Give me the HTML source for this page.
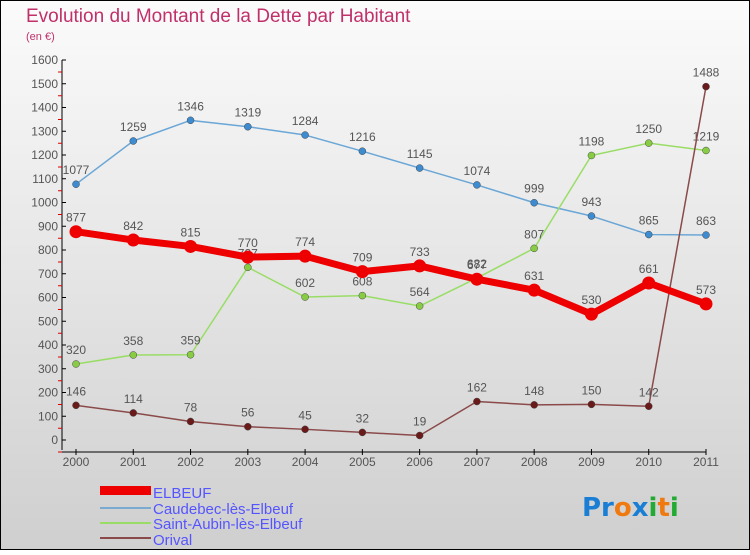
<!DOCTYPE html>
<html><head><meta charset="utf-8"><style>
html,body{margin:0;padding:0;}
body{width:750px;height:550px;overflow:hidden;font-family:"Liberation Sans",sans-serif;}
</style></head><body>
<svg width="750" height="550" viewBox="0 0 750 550" xmlns="http://www.w3.org/2000/svg">
<defs><linearGradient id="bg" x1="0" y1="0" x2="0" y2="1"><stop offset="0" stop-color="#fbfbfb"/><stop offset="1" stop-color="#cfcfcf"/></linearGradient></defs>
<rect x="0.5" y="0.5" width="749" height="549" fill="url(#bg)" stroke="#000"/>
<text x="26" y="22" font-size="19" fill="#c0306a">Evolution du Montant de la Dette par Habitant</text>
<text x="26" y="40" font-size="11" fill="#c0306a">(en €)</text>
<g id="axes"></g>
<g id="series"></g>
<g>
<rect x="100" y="486" width="51" height="9" fill="#e00"/>
<text x="153" y="498" font-size="15" fill="#5555ff">ELBEUF</text>
<rect x="100" y="507" width="51" height="2" fill="#7aaad0"/>
<text x="153" y="514" font-size="15" fill="#5555ff">Caudebec-lès-Elbeuf</text>
<rect x="100" y="522" width="51" height="2" fill="#99dd66"/>
<text x="153" y="529" font-size="15" fill="#5555ff">Saint-Aubin-lès-Elbeuf</text>
<rect x="100" y="537" width="51" height="2" fill="#8b4a4a"/>
<text x="153" y="545" font-size="15" fill="#5555ff">Orival</text>
</g>
<g font-size="26" font-weight="bold" font-family="'DejaVu Sans',sans-serif">
<text x="582" y="516"><tspan fill="#1a7fd4">Pr</tspan><tspan fill="#f07a10">o</tspan><tspan fill="#1a7fd4">x</tspan><tspan fill="#22aa33">i</tspan><tspan fill="#f07a10">t</tspan><tspan fill="#22aa33">i</tspan></text>
</g>
</svg>
<script>
const years=[2000,2001,2002,2003,2004,2005,2006,2007,2008,2009,2010,2011];
const yTicks=[0,100,200,300,400,500,600,700,800,900,1000,1100,1200,1300,1400,1500,1600];
const elbeuf=[877,842,815,770,774,709,733,677,631,530,661,573];
const caudebec=[1077,1259,1346,1319,1284,1216,1145,1074,999,943,865,863];
const saintAubin=[320,358,359,727,602,608,564,682,807,1198,1250,1219];
const orival=[146,114,78,56,45,32,19,162,148,150,142,1488];
const NS="http://www.w3.org/2000/svg";
function xs(i){return 76+i*(706-76)/11;}
function ys(v){return 440-v*(380/1600);}
function mk(tag,attrs,parent){const e=document.createElementNS(NS,tag);for(const k in attrs)e.setAttribute(k,attrs[k]);parent.appendChild(e);return e;}
const axes=document.getElementById('axes');
const yax=mk('line',{x1:62,y1:60,x2:62,y2:450,stroke:'#000'},axes);


const xax=mk('line',{x1:62,y1:452,x2:706,y2:452,stroke:'#000'},axes);


yTicks.forEach(t=>{
  const y=ys(t);
  mk('line',{x1:62,y1:y,x2:66,y2:y,stroke:'#000'},axes);
  mk('line',{x1:58,y1:y+12,x2:62,y2:y+12,stroke:'#d00'},axes);
  const tx=mk('text',{x:58,y:y+4,'font-size':12,fill:'#555','text-anchor':'end'},axes);
  tx.textContent=t;
  
  
});
years.forEach((yr,i)=>{
  const x=xs(i);
  mk('line',{x1:x,y1:449,x2:x,y2:455,stroke:'#000'},axes);
  const tx=mk('text',{x:x,y:466,'font-size':12,fill:'#555','text-anchor':'middle'},axes);
  tx.textContent=yr;
  
  
});
const ser=document.getElementById('series');
function draw(data,name,color,w,r,dot){
  const g=mk('g',{},ser);
  
  
  const pts=data.map((v,i)=>xs(i)+','+ys(v)).join(' ');
  const pl=mk('polyline',{points:pts,fill:'none',stroke:color,'stroke-width':w,'stroke-linejoin':'round'},g);
  
  
  data.forEach((v,i)=>{
    const c=mk('circle',{cx:xs(i),cy:ys(v),r:r,fill:dot,stroke:color==='#ee0000'?'none':'#444','stroke-width':0.5},g);
    
    
    const t=mk('text',{x:xs(i),y:ys(v)-10,'font-size':12,fill:'#555','text-anchor':'middle'},g);
    t.textContent=v;
    
    
  });
}
draw(caudebec,'caudebec','#6aa6d6',1.5,3.5,'#3d8bd0');
draw(saintAubin,'saint-aubin','#99dd66',1.5,3.5,'#88cc44');
draw(orival,'orival','#8b4a4a',1.5,3.5,'#6b1a1a');
draw(elbeuf,'elbeuf','#ee0000',7,6.5,'#ee0000');
</script>
</body></html>
